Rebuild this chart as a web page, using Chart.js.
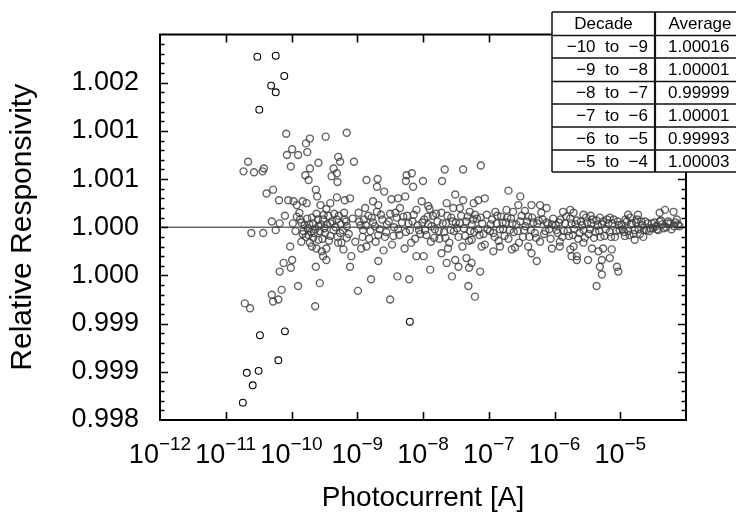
<!DOCTYPE html>
<html><head><meta charset="utf-8">
<script src="https://cdn.jsdelivr.net/npm/chart.js@4.4.1/dist/chart.umd.min.js"></script>
<style>html,body{margin:0;padding:0;background:#fff}canvas{display:block}</style>
</head><body>
<canvas id="c" width="736" height="514"></canvas>
<script>
const FONT = '"Liberation Sans", Arial, Helvetica, sans-serif';

// Each point: [log10(photocurrent / A), relative responsivity]
const outliers = [[-10.52,1.00177],[-10.24,1.00178],[-10.11,1.00157],[-10.31,1.00147],[-10.24,1.00140],[-10.49,1.00122],
  [-10.48,0.99888],[-10.10,0.99892],[-10.20,0.99862],[-10.68,0.99849],[-10.50,0.99851],[-10.59,0.99836],[-10.74,0.99818],[-8.20,0.99902]];

const dec_11_10 = [[-10.08,1.00097],[-10.07,1.00075],[-10.66,1.00068],[-10.73,1.00058],[-10.57,1.00057],[-10.44,1.00058],[-10.42,1.00061],
  [-10.01,1.00063],[-10.28,1.00039],[-10.38,1.00035],[-10.19,1.00028],[-10.05,1.00028],[-10.10,1.00012],[-10.30,1.00006],[-10.18,1.00004],
  [-10.24,0.99997],[-10.61,0.99994],[-10.43,0.99994],[-10.02,0.99980],[-10.01,0.99958],[-10.12,0.99963],[-10.18,0.99954],[-10.15,0.99935],
  [-10.30,0.99930],[-10.28,0.99923],[-10.20,0.99925],[-10.71,0.99921],[-10.63,0.99916]];

const dec_10_9 = [[-9.72,1.00092],[-9.78,1.00087],[-9.48,1.00094],[-9.16,1.00098],[-9.99,1.00081],[-9.90,1.00075],[-9.76,1.00078],
  [-9.59,1.00067],[-9.72,1.00061],[-9.79,1.00054],[-9.74,1.00049],[-9.29,1.00073],[-9.26,1.00068],[-9.36,1.00061],[-9.31,1.00056],
  [-9.39,1.00053],[-9.30,1.00047],[-9.97,1.00027],[-9.92,1.00023],[-9.83,1.00027],[-9.77,1.00025],[-9.63,1.00039],[-9.61,1.00032],
  [-9.56,1.00023],[-9.47,1.00019],[-9.41,1.00025],[-9.31,1.00031],[-9.19,1.00028],[-9.92,1.00011],[-9.87,1.00008],[-9.69,1.00010],
  [-9.67,1.00004],[-9.59,1.00001],[-9.52,1.00008],[-9.41,1.00004],[-9.31,1.00008],[-9.19,1.00008],[-9.82,0.99996],[-9.74,0.99992],
  [-9.67,0.99989],[-9.72,0.99984],[-9.59,0.99987],[-9.49,0.99994],[-9.41,0.99991],[-9.36,0.99997],[-9.26,0.99994],[-9.16,0.99989],
  [-9.24,0.99984],[-9.16,1.00001],[-9.85,0.99985],[-9.69,0.99980],[-9.62,0.99978],[-9.54,0.99975],[-9.47,0.99978],[-9.29,0.99984],
  [-9.21,0.99977],[-9.99,0.99966],[-9.63,0.99959],[-9.52,0.99970],[-9.47,0.99966],[-9.90,0.99939],[-9.57,0.99942],[-9.64,0.99918],
  [-9.11,1.00030],[-9.09,0.99970],[-9.11,0.99959],[-9.80,1.00002],[-9.75,0.99999],[-9.70,0.99995],[-9.64,0.99998],[-9.55,1.00003],
  [-9.50,0.99999],[-9.44,1.00012],[-9.35,1.00014],[-9.25,1.00003],[-9.20,1.00015],[-9.85,1.00005],[-9.62,1.00014],[-9.78,0.99990],
  [-9.53,0.99988],[-9.30,0.99990],[-9.05,1.00068],
  [-9.98,1.00004],[-9.94,0.99996],[-9.88,1.00015],[-9.83,0.99993],[-9.76,1.00009],[-9.73,1.00003],[-9.66,0.99994],[-9.60,1.00008],
  [-9.57,0.99996],[-9.51,1.00013],[-9.46,1.00003],[-9.43,0.99986],[-9.38,1.00006],[-9.33,1.00000],[-9.28,1.00012],[-9.22,0.99997],
  [-9.17,1.00006],[-9.13,0.99993],[-9.07,1.00009],[-9.03,0.99985]];

const dec_9_8 = [[-8.86,1.00049],[-8.69,1.00050],[-8.70,1.00042],[-8.59,1.00037],[-8.25,1.00054],[-8.17,1.00056],[-8.26,1.00048],
  [-8.15,1.00042],[-8.76,1.00027],[-8.68,1.00023],[-8.48,1.00029],[-8.38,1.00030],[-8.27,1.00032],[-8.02,1.00027],[-8.68,0.99965],
  [-8.79,0.99946],[-8.39,0.99949],[-8.21,0.99946],[-8.99,0.99934],[-8.50,0.99925],[-8.10,0.99970],[-8.98,1.00015],[-8.95,1.00002],
  [-8.92,0.99990],[-8.90,1.00008],[-8.86,0.99980],[-8.83,1.00012],[-8.80,0.99996],[-8.76,1.00005],[-8.72,0.99985],[-8.70,1.00016],
  [-8.66,0.99998],[-8.62,1.00008],[-8.58,0.99990],[-8.55,1.00003],[-8.50,1.00014],[-8.47,0.99982],[-8.44,1.00000],[-8.40,1.00010],
  [-8.36,0.99992],[-8.32,1.00005],[-8.28,0.99978],[-8.24,1.00012],[-8.20,0.99997],[-8.16,1.00006],[-8.12,0.99988],[-8.08,1.00002],
  [-8.04,0.99993],[-8.94,0.99978],[-8.60,0.99976],[-8.35,1.00020],[-8.88,1.00020],[-8.10,1.00018],
  [-8.97,1.00006],[-8.91,0.99997],[-8.87,1.00002],[-8.82,0.99988],[-8.78,1.00010],[-8.73,1.00001],[-8.68,0.99992],[-8.64,1.00013],
  [-8.56,0.99995],[-8.52,1.00006],[-8.45,0.99991],[-8.42,1.00015],[-8.38,0.99998],[-8.30,1.00011],[-8.26,0.99995],[-8.22,1.00004],
  [-8.18,0.99984],[-8.14,1.00013],[-8.06,0.99997],[-8.01,1.00005]];

const dec_8_7 = [[-8.00,1.00048],[-7.67,1.00060],[-7.71,1.00048],[-7.39,1.00060],[-7.92,1.00022],[-7.64,1.00025],[-7.51,1.00034],
  [-7.54,1.00020],[-7.44,1.00020],[-7.99,0.99970],[-7.89,0.99956],[-7.72,0.99973],[-7.64,0.99963],[-7.51,0.99966],[-7.46,0.99959],
  [-7.56,0.99949],[-7.12,1.00064],[-7.39,1.00028],[-7.23,1.00025],[-7.16,1.00028],[-7.06,1.00030],[-7.29,1.00016],[-7.21,1.00013],
  [-7.26,0.99987],[-7.11,0.99980],[-7.34,0.99968],[-7.26,0.99963],[-7.13,0.99954],[-7.30,0.99958],[-7.31,0.99939],[-7.21,0.99928],
  [-7.98,1.00008],[-7.95,0.99992],[-7.92,1.00003],[-7.88,0.99985],[-7.85,1.00012],[-7.82,0.99998],[-7.78,1.00006],[-7.75,0.99988],
  [-7.72,1.00015],[-7.68,0.99995],[-7.65,1.00004],[-7.60,0.99984],[-7.57,1.00010],[-7.53,0.99996],[-7.50,1.00005],[-7.46,0.99990],
  [-7.42,1.00012],[-7.38,0.99999],[-7.34,1.00006],[-7.30,0.99986],[-7.26,1.00003],[-7.22,0.99995],[-7.18,1.00009],[-7.14,0.99992],
  [-7.10,1.00004],[-7.06,0.99982],[-7.03,1.00013],[-7.90,1.00019],[-7.62,0.99978],[-7.40,0.99980],
  [-7.97,0.99997],[-7.93,1.00011],[-7.87,1.00001],[-7.83,0.99989],[-7.80,1.00014],[-7.76,0.99996],[-7.70,1.00004],[-7.66,0.99989],
  [-7.63,1.00012],[-7.58,0.99997],[-7.55,1.00006],[-7.48,0.99999],[-7.44,1.00004],[-7.36,0.99991],[-7.32,1.00011],[-7.28,0.99996],
  [-7.24,1.00008],[-7.16,0.99998],[-7.12,1.00010],[-7.08,0.99993],[-7.02,0.99998]];

const dec_7_6 = [[-6.70,1.00038],[-6.52,1.00032],[-6.55,1.00023],[-6.35,1.00023],[-6.22,1.00023],[-6.12,1.00020],[-6.73,1.00018],
  [-6.63,1.00016],[-6.93,0.99975],[-6.83,0.99980],[-6.65,0.99977],[-6.40,0.99980],[-6.35,0.99973],[-6.27,0.99965],[-6.04,0.99978],
  [-6.98,0.99996],[-6.95,1.00008],[-6.91,0.99990],[-6.88,1.00004],[-6.85,0.99986],[-6.81,1.00011],[-6.78,0.99998],[-6.74,1.00005],
  [-6.70,0.99988],[-6.66,1.00009],[-6.62,0.99995],[-6.58,1.00003],[-6.54,0.99984],[-6.50,1.00012],[-6.46,0.99997],[-6.42,1.00006],
  [-6.38,0.99990],[-6.34,1.00010],[-6.30,0.99994],[-6.26,1.00004],[-6.22,0.99985],[-6.18,1.00008],[-6.14,0.99996],[-6.10,1.00003],
  [-6.06,0.99988],[-6.02,1.00009],[-6.90,1.00016],[-6.45,1.00017],[-6.60,0.99979],[-6.20,1.00015],
  [-6.97,1.00003],[-6.93,0.99994],[-6.87,1.00012],[-6.83,0.99998],[-6.79,1.00005],[-6.76,0.99991],[-6.72,1.00010],[-6.68,0.99997],
  [-6.64,1.00004],[-6.56,0.99996],[-6.52,1.00006],[-6.48,0.99990],[-6.44,1.00001],[-6.40,1.00011],[-6.36,0.99997],[-6.32,1.00005],
  [-6.28,0.99989],[-6.24,1.00007],[-6.16,0.99993],[-6.12,1.00005],[-6.08,0.99998],[-6.04,1.00003]];

const dec_6_5 = [[-5.92,0.99980],[-5.76,0.99977],[-5.74,0.99970],[-5.66,0.99966],[-5.87,1.00016],[-5.76,1.00018],[-5.31,1.00010],
  [-5.16,1.00010],[-5.71,1.00015],[-5.56,1.00013],[-5.71,0.99980],[-5.56,0.99984],[-5.43,0.99978],[-5.33,0.99975],[-5.26,0.99978],
  [-5.13,0.99977],[-5.66,0.99970],[-5.49,0.99966],[-5.28,0.99966],[-5.16,0.99968],[-5.31,0.99959],[-5.28,0.99951],[-5.05,0.99959],
  [-5.03,0.99954],[-5.36,0.99939],[-5.98,1.00002],[-5.95,0.99994],[-5.91,1.00008],[-5.88,0.99990],[-5.84,1.00004],[-5.80,0.99996],
  [-5.76,1.00009],[-5.72,0.99992],[-5.68,1.00003],[-5.64,0.99988],[-5.60,1.00006],[-5.56,0.99997],[-5.52,1.00010],[-5.48,0.99993],
  [-5.44,1.00004],[-5.40,0.99989],[-5.36,1.00007],[-5.32,0.99996],[-5.28,1.00003],[-5.24,0.99991],[-5.20,1.00008],[-5.16,0.99995],
  [-5.12,1.00004],[-5.08,0.99990],[-5.04,1.00006],[-5.01,0.99997],[-5.92,0.99985],[-5.45,1.00012],
  [-5.97,0.99997],[-5.93,1.00005],[-5.86,0.99996],[-5.82,1.00011],[-5.78,0.99991],[-5.74,1.00004],[-5.70,0.99998],[-5.66,1.00007],
  [-5.62,0.99994],[-5.58,1.00002],[-5.54,0.99989],[-5.50,1.00005],[-5.46,0.99998],[-5.42,1.00008],[-5.38,0.99995],[-5.34,1.00002],
  [-5.30,0.99990],[-5.26,1.00006],[-5.22,0.99998],[-5.18,1.00004],[-5.14,0.99990],[-5.10,1.00008],[-5.06,0.99996],[-5.02,1.00002]];

const dec_5_4 = [[-4.88,1.00013],[-4.73,1.00013],[-4.40,1.00015],[-4.32,1.00018],[-4.19,1.00016],[-4.14,1.00008],[-4.40,1.00006],
  [-4.27,1.00006],[-4.60,0.99997],[-4.50,0.99999],[-4.78,0.99987],[-4.93,0.99991],[-4.98,1.00003],[-4.94,0.99995],[-4.90,1.00006],
  [-4.86,0.99992],[-4.82,1.00004],[-4.78,0.99997],[-4.74,1.00008],[-4.70,0.99993],[-4.66,1.00002],[-4.62,1.00006],[-4.56,0.99996],
  [-4.52,1.00004],[-4.46,1.00001],[-4.42,0.99997],[-4.36,1.00003],[-4.30,1.00000],[-4.24,1.00004],[-4.18,1.00001],[-4.12,1.00003],
  [-4.85,1.00010],[-4.65,0.99990],
  [-4.96,0.99998],[-4.92,1.00008],[-4.88,0.99996],[-4.84,1.00003],[-4.80,0.99993],[-4.76,1.00005],[-4.72,0.99998],[-4.68,1.00006],
  [-4.64,0.99997],[-4.58,1.00004],[-4.54,0.99999],[-4.48,1.00005],[-4.44,0.99998],[-4.38,1.00007],[-4.34,0.99999],[-4.28,1.00004],
  [-4.22,0.99998],[-4.16,1.00005],[-4.10,1.00001]];

const referenceLevel = 1.0;
const xMinExp = -12, xMaxExp = -4;
const xTickExponents = [-12,-11,-10,-9,-8,-7,-6,-5,-4];
const xLabelExponents = [-12,-11,-10,-9,-8,-7,-6,-5];
const yMin = 0.998, yMax = 1.002;
const yTickValues = [0.998,0.9985,0.999,0.9995,1.000,1.0005,1.001,1.0015,1.002];
const yTickLabels = ['0.998','0.999','0.999','1.000','1.000','1.001','1.001','1.002',''];
const yMinorStep = 0.0001;

const tableHeader = ['Decade','Average'];
const tableDecades = ['\u221210  to  \u22129','\u22129  to  \u22128','\u22128  to  \u22127','\u22127  to  \u22126','\u22126  to  \u22125','\u22125  to  \u22124'];
const tableAverages = ['1.00016','1.00001','0.99999','1.00001','0.99993','1.00003'];

const toXY = arr => arr.map(p => ({x: Math.pow(10, p[0]), y: p[1]}));
const cloud = [].concat(dec_11_10, dec_10_9, dec_9_8, dec_8_7, dec_7_6, dec_6_5, dec_5_4);

const decoPlugin = {
  id: 'deco',
  afterDraw(chart) {
    const {ctx, chartArea: a, scales: {x, y}} = chart;
    ctx.save();
    ctx.strokeStyle = '#000';
    ctx.lineWidth = 2;
    ctx.strokeRect(a.left, a.top, a.right - a.left, a.bottom - a.top);
    ctx.lineWidth = 1.6;
    ctx.beginPath();
    xTickExponents.forEach(e => {
      const px = Math.round(x.getPixelForValue(Math.pow(10, e))) + 0.5;
      if (px <= a.left + 2 || px >= a.right - 2) return;
      ctx.moveTo(px, a.bottom); ctx.lineTo(px, a.bottom - 8);
      ctx.moveTo(px, a.top); ctx.lineTo(px, a.top + 8);
    });
    const nMinor = Math.round((yMax - yMin) / yMinorStep);
    for (let i = 1; i < nMinor; i++) {
      const v = yMin + i * yMinorStep;
      const major = i % 5 === 0;
      const len = major ? 8 : 4.5;
      const py = Math.round(y.getPixelForValue(v)) + 0.5;
      ctx.moveTo(a.left, py); ctx.lineTo(a.left + len, py);
      ctx.moveTo(a.right, py); ctx.lineTo(a.right - len, py);
    }
    ctx.stroke();

    // x tick labels 10^n
    ctx.fillStyle = '#000';
    ctx.textBaseline = 'alphabetic';
    ctx.textAlign = 'left';
    xLabelExponents.forEach(e => {
      const px = x.getPixelForValue(Math.pow(10, e));
      const base = '10', sup = '\u2212' + Math.abs(e);
      ctx.font = '27px ' + FONT; const wb = ctx.measureText(base).width;
      ctx.font = '19px ' + FONT; const ws = ctx.measureText(sup).width;
      const x0 = px - (wb + ws) / 2;
      ctx.font = '27px ' + FONT; ctx.fillText(base, x0, a.bottom + 43);
      ctx.font = '19px ' + FONT; ctx.fillText(sup, x0 + wb, a.bottom + 30);
    });

    // inset table
    const tL = 552, tR = 745, tT = 12, colX = 655;
    const rowLines = [12, 35.5, 58, 81.5, 104, 127, 150, 172];
    ctx.fillStyle = '#fff';
    ctx.fillRect(tL, tT, tR - tL, rowLines[rowLines.length - 1] - tT);
    ctx.strokeStyle = '#111';
    ctx.lineWidth = 1.5;
    ctx.beginPath();
    rowLines.forEach(ry => { ctx.moveTo(tL, ry); ctx.lineTo(tR, ry); });
    ctx.moveTo(tL, tT); ctx.lineTo(tL, rowLines[rowLines.length - 1]);
    ctx.stroke();
    ctx.lineWidth = 2.2;
    ctx.beginPath();
    ctx.moveTo(colX, tT); ctx.lineTo(colX, rowLines[rowLines.length - 1]);
    ctx.stroke();
    ctx.fillStyle = '#000';
    ctx.font = '17px ' + FONT;
    ctx.textBaseline = 'middle';
    ctx.textAlign = 'center';
    const hy = (rowLines[0] + rowLines[1]) / 2 + 1;
    ctx.fillText(tableHeader[0], (tL + colX) / 2, hy);
    ctx.fillText(tableHeader[1], 700, hy);
    tableDecades.forEach((d, i) => {
      const ry = (rowLines[i + 1] + rowLines[i + 2]) / 2 + 1;
      ctx.textAlign = 'right';
      ctx.fillText(d, 648, ry);
      ctx.textAlign = 'left';
      ctx.fillText(tableAverages[i], 668, ry);
    });
    ctx.restore();
  }
};

new Chart(document.getElementById('c'), {
  type: 'scatter',
  data: {
    datasets: [
      { data: toXY(outliers), borderColor: '#000', backgroundColor: 'rgba(0,0,0,0)', borderWidth: 1.1, pointRadius: 3.4, pointHoverRadius: 3.4 },
      { data: toXY(cloud), borderColor: 'rgba(60,60,60,0.8)', backgroundColor: 'rgba(0,0,0,0)', borderWidth: 1.4, pointRadius: 3.5, pointHoverRadius: 3.5 },
      { type: 'line', data: [{x: Math.pow(10, xMinExp), y: referenceLevel}, {x: Math.pow(10, xMaxExp), y: referenceLevel}],
        borderColor: '#6a6a6a', borderWidth: 1.5, pointRadius: 0, fill: false }
    ]
  },
  options: {
    responsive: false,
    devicePixelRatio: 1,
    animation: false,
    events: [],
    layout: { padding: { top: 34, right: 50, left: 0, bottom: 0 } },
    plugins: { legend: { display: false }, tooltip: { enabled: false } },
    scales: {
      x: {
        type: 'logarithmic',
        min: Math.pow(10, xMinExp), max: Math.pow(10, xMaxExp),
        grid: { display: false, drawTicks: false },
        border: { display: false },
        ticks: { display: false },
        title: { display: true, text: 'Photocurrent [A]', color: '#000',
                 font: { family: FONT, size: 28, lineHeight: 1 }, padding: { top: 0, bottom: 2 } },
        afterFit: s => { s.height = 94; }
      },
      y: {
        type: 'linear',
        min: yMin, max: yMax,
        grid: { display: false, drawTicks: false },
        border: { display: false },
        afterBuildTicks: s => { s.ticks = yTickValues.map(v => ({value: v})); },
        ticks: { color: '#000', padding: 21, font: { family: FONT, size: 27, lineHeight: 1 },
                 callback: (v, i) => yTickLabels[i] },
        title: { display: true, text: 'Relative Responsivity', color: '#000',
                 font: { family: FONT, size: 30, lineHeight: 1 }, padding: { top: 7.5, bottom: 0 } },
        afterFit: s => { s.width = 160; }
      }
    }
  },
  plugins: [decoPlugin]
});
</script></body></html>
